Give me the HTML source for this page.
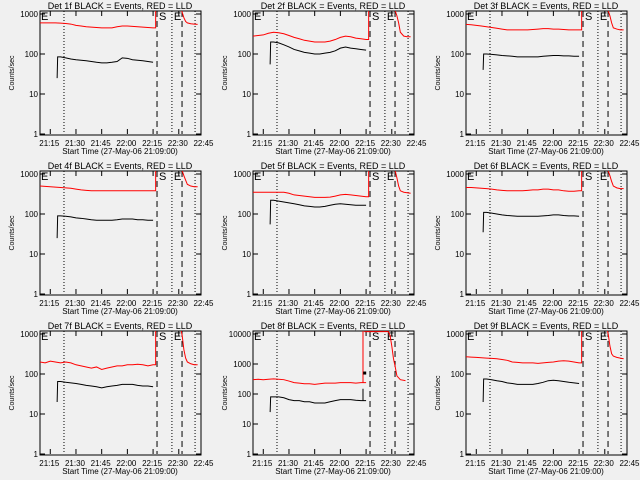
<!DOCTYPE html>
<html><head><meta charset="utf-8"><style>
body{margin:0;background:#f0f0f0;}
svg{display:block;}
text{font-family:"Liberation Sans",sans-serif;fill:#000;}
</style></head><body>
<svg id="fig" width="640" height="480" viewBox="0 0 640 480" xmlns="http://www.w3.org/2000/svg">
<rect width="640" height="480" fill="#f0f0f0"/>
</svg>
<script>
// time grids, minutes after 21:09:00
const redTimes = [0,3,6,9,12,15,18,21,24,27,30,33,36,39,42,45,48,51,54,57,60,63,66];
const blackTimes = [10,10.3,12,15,18,21,24,27,30,33,36,39,42,45,48,51,54,57,60,63,66];
const postTimes = [82,83,84,85,86,88,90,92];
const post8Times = [65,79,80,81,82,83,84,86,89];
const detNames = ["1f","2f","3f","4f","5f","6f","7f","8f","9f"];
const yMaxDecade = [3,3,3,3,3,3,3,4,3];
const spikeTime = [67.5,67.5,67.5,67.5,67.5,67.5,67.5,64.2,67.5];
const xTickLabels = ["21:15","21:30","21:45","22:00","22:15","22:30","22:45"];
const xTickMinutes = [6,21,36,51,66,81,96];
const dottedTimes = [14,77,90.5];
const dashedTimes = [68.3,82.9];

const red1 = [600,600,600,600,590,580,560,520,500,480,470,460,450,450,450,480,500,500,490,480,470,460,450];
const red2 = [280,290,300,330,350,340,320,290,260,240,220,210,200,200,200,210,230,260,280,270,250,240,230];
const red3 = [550,540,520,500,480,460,440,420,400,400,400,400,400,410,420,430,430,420,420,410,400,400,400];
const red4 = [500,490,480,470,460,450,440,420,400,390,380,380,380,380,380,380,380,380,380,380,380,380,380];
const red5 = [350,350,350,350,350,350,350,330,300,290,280,270,260,260,260,265,280,300,310,300,290,280,270];
const red6 = [460,460,450,440,430,420,400,390,380,380,380,380,390,400,400,420,420,400,400,380,370,370,380];
const red7 = [200,190,210,200,190,200,190,170,160,150,140,150,130,140,150,160,160,170,170,175,170,160,170];
const red8 = [300,310,300,310,320,310,300,270,240,230,220,220,210,220,230,230,230,240,240,240,230,240,240];
const red9 = [270,265,260,255,250,245,240,230,220,200,195,190,190,190,185,190,195,200,210,215,210,200,190];

const black1 = [25,85,85,80,75,72,70,68,65,62,60,60,62,65,80,78,72,70,68,65,62];
const black2 = [55,200,200,190,170,150,130,120,110,105,100,100,105,110,120,140,150,140,135,130,125];
const black3 = [40,100,100,98,95,92,90,88,85,85,85,85,85,88,90,92,92,90,90,88,88];
const black4 = [25,90,90,88,85,80,78,75,72,70,70,70,70,72,75,75,75,72,72,70,70];
const black5 = [55,220,220,210,200,190,180,170,160,155,150,150,155,165,175,180,175,170,165,165,165];
const black6 = [35,110,110,105,100,95,92,90,88,88,88,88,88,90,92,95,95,92,90,90,88];
const black7 = [20,65,65,62,60,58,55,52,50,48,45,48,50,52,55,55,55,52,50,50,48];
const black8 = [25,80,80,80,75,65,60,60,55,55,50,50,50,55,60,65,65,65,62,60,60];
const black9 = [20,75,75,72,68,65,60,58,55,55,55,55,58,62,68,70,68,65,62,60,58];

const post1 = [1500,1100,800,650,600,570,560,550];
const post2 = [1500,1200,900,600,350,280,270,270];
const post3 = [1500,1200,900,600,450,420,400,400];
const post4 = [1500,1200,900,700,550,500,480,480];
const post5 = [1500,1200,800,500,380,350,340,330];
const post6 = [1500,1200,900,650,500,450,430,430];
const post7 = [1500,900,400,250,200,180,170,170];
const post8 = [12000,12000,9000,4000,1500,800,400,300,280];
const post9 = [1500,1000,500,320,280,260,250,240];

const reds=[red1,red2,red3,red4,red5,red6,red7,red8,red9];
const blacks=[black1,black2,black3,black4,black5,black6,black7,black8,black9];
const posts=[post1,post2,post3,post4,post5,post6,post7,post8,post9];

const NS="http://www.w3.org/2000/svg";
const fig=document.getElementById('fig');
function mk(tag,attrs,parent){const e=document.createElementNS(NS,tag);for(const k in attrs)e.setAttribute(k,attrs[k]);parent.appendChild(e);return e;}

for(let p=0;p<9;p++){
  const ox=(p%3)*213, oy=Math.floor(p/3)*160;
  const L=40,R=201,T=11,B=134;
  const dec=yMaxDecade[p];
  const per=(B-14)/dec;
  const xs=t=>L+t*25.7/15;
  const ys=v=>B-per*Math.log10(v);
  const g=mk('g',{transform:`translate(${ox},${oy})`},fig);
  
  
  const cid='clip'+p;
  const cp=mk('clipPath',{id:cid},g);
  mk('rect',{x:L,y:T,width:R-L,height:B-T+1},cp);
  const ti=mk('text',{x:120,y:9,'font-size':9,'text-anchor':'middle'},g);
  ti.textContent='Det '+detNames[p]+' BLACK = Events, RED = LLD';
  
  
  const fr=mk('rect',{x:L,y:T,width:R-L,height:B-T+1,fill:'none',stroke:'#000','stroke-width':1},g);
  
  
  for(let d=0;d<=dec;d++){
    const y=ys(Math.pow(10,d));
    mk('line',{x1:L,x2:L+5,y1:y,y2:y,stroke:'#000'},g);
    mk('line',{x1:R-5,x2:R,y1:y,y2:y,stroke:'#000'},g);
    const yl=mk('text',{x:L-2,y:y+3,'font-size':8,'text-anchor':'end'},g);
    yl.textContent=String(Math.pow(10,d));
    
    
  }
  const ya=mk('text',{x:0,y:0,'font-size':7,'text-anchor':'middle',transform:`translate(14,73) rotate(-90)`},g);
  ya.textContent='Counts/sec';
  
  
  for(let i=0;i<xTickLabels.length;i++){
    const x=xs(xTickMinutes[i]);
    if(x<=R){mk('line',{x1:x,x2:x,y1:B,y2:B-5,stroke:'#000'},g);mk('line',{x1:x,x2:x,y1:T,y2:T+5,stroke:'#000'},g);}
    const xl=mk('text',{x:x-1,y:146,'font-size':8,'text-anchor':'middle'},g);
    xl.textContent=xTickLabels[i];
    
    
  }
  const xa=mk('text',{x:120,y:154,'font-size':8,'text-anchor':'middle'},g);
  xa.textContent='Start Time (27-May-06 21:09:00)';
  
  
  for(const t of dottedTimes){const l=mk('line',{x1:xs(t),x2:xs(t),y1:T,y2:B,stroke:'#000','stroke-dasharray':'1,2'},g);
    
    }
  for(const t of dashedTimes){const l=mk('line',{x1:xs(t),x2:xs(t),y1:T,y2:B,stroke:'#000','stroke-dasharray':'6,4'},g);
    
    }
  const labs=[['E',L+1],['S',xs(dashedTimes[0])+2],['E',xs(dottedTimes[1])+2]];
  for(const [s,x] of labs){const e=mk('text',{x:x,y:T+9,'font-size':11},g);e.textContent=s;
    
    }
  const cg=mk('g',{'clip-path':`url(#${cid})`},g);
  let pts=reds[p].map((v,i)=>xs(redTimes[i])+','+ys(v));
  pts.push(xs(spikeTime[p])+','+ys(reds[p][reds[p].length-1]));
  pts.push(xs(spikeTime[p])+','+ys(50000));
  const rl=mk('polyline',{points:pts.join(' '),fill:'none',stroke:'#ff0000','stroke-width':1},cg);
  
  
  const pt=p===7?post8Times:postTimes;
  const pp=posts[p].map((v,i)=>xs(pt[i])+','+ys(v));
  const rp=mk('polyline',{points:pp.join(' '),fill:'none',stroke:'#ff0000','stroke-width':1},cg);
  
  
  const bp=blacks[p].map((v,i)=>xs(blackTimes[i])+','+ys(v));
  if(p===7){bp.push(xs(spikeTime[p])+','+ys(blacks[p][blacks[p].length-1]));bp.push(xs(spikeTime[p])+','+ys(150));}
  const bl=mk('polyline',{points:bp.join(' '),fill:'none',stroke:'#000','stroke-width':1},cg);
  
  
  if(p===7){const sq=mk('rect',{x:xs(spikeTime[p]+1)-1.5,y:ys(500)-1.5,width:3,height:3,fill:'#000'},cg);
    
    }
}
</script>
</body></html>
